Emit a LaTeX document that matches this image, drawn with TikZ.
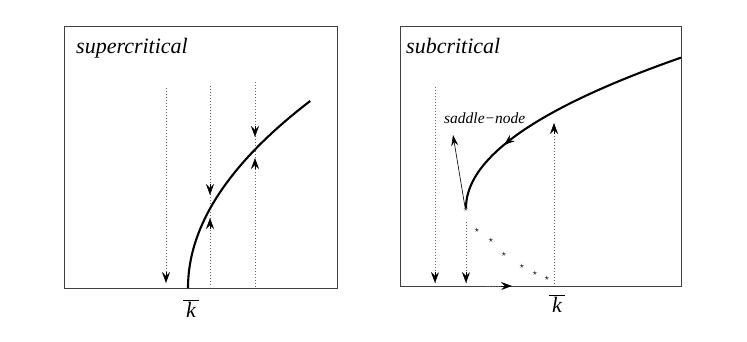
\documentclass[tikz,border=0pt]{standalone}
\usepackage{fontspec}
\setmainfont{Liberation Serif}
\usetikzlibrary{arrows.meta}
\begin{document}
\begin{tikzpicture}[x=1pt,y=-1pt,
  box/.style={draw=black!75, line width=0.9pt},
  curve/.style={line width=2.1pt, black},
  dots/.style={draw=black!60, line width=0.8pt, dash pattern=on 0.7pt off 2.3pt},
  tip/.style={-{Stealth[length=11pt,width=8pt,inset=4pt]}, line width=0.6pt, black},
  thintip/.style={-{Stealth[length=11pt,width=7pt,inset=4pt]}, line width=0.6pt, black},
  title/.style={inner sep=0pt, anchor=base west, font=\fontsize{22}{26}\selectfont\itshape},
  klabel/.style={inner sep=0pt, anchor=base, font=\fontsize{22}{24}\selectfont},
  starmark/.style={inner sep=0pt, font=\fontsize{9}{9}\selectfont},
]
\useasboundingbox (0,0) rectangle (747,341);

% ---------- left panel: supercritical ----------
\draw[box] (64,26) rectangle (337,288);
\node[title] (tl) at (76,53) {supercritical};

\coordinate (a1) at (166,88);  \coordinate (b1) at (166,283);
\coordinate (a2) at (210,86);  \coordinate (b2) at (210,287);
\coordinate (a3) at (255,82);  \coordinate (b3) at (255,287);
\draw[dots] (a1) -- (b1);
\draw[dots] (a2) -- (b2);
\draw[dots] (a3) -- (b3);

\draw[tip] (166,272) -- (166,283);
\draw[tip] (210,184) -- (210,195);
\draw[tip] (210,229) -- (210,218);
\draw[tip] (255,126) -- (255,137);
\draw[tip] (255,169) -- (255,158);

\draw[curve] plot[domain=0:187, samples=80, variable=\t] ({188+0.0035*\t*\t}, {288-\t});

\node[klabel] (kl) at (191,317) {$\overline{\hbox{\itshape\kern3pt k\kern3pt}}$};

% ---------- right panel: subcritical ----------
\draw[box] (400,26) rectangle (681,286);
\node[title] (tr) at (406,53) {subcritical};

\coordinate (c1) at (435,87);  \coordinate (d1) at (435,283);
\coordinate (c2) at (466,222); \coordinate (d2) at (466,283);
\coordinate (c3) at (554,284); \coordinate (d3) at (554,123);
\coordinate (h1) at (486,286); \coordinate (h2) at (512,286);
\draw[dots] (c1) -- (d1);
\draw[dots] (c2) -- (d2);
\draw[dots] (c3) -- (d3);
\draw[dots] (h1) -- (h2);

\draw[tip] (435,272) -- (435,283);
\draw[tip] (466,272) -- (466,283);
\draw[tip] (554,134) -- (554,123);
\draw[tip] (501,286) -- (512,286);

\draw[curve] plot[domain=0:150.4, samples=80, variable=\t] ({466+0.0095*\t*\t}, {208-\t});
\draw[tip] (512.4,138.0) -- (504,145);

\node[starmark] (s0) at (466,209) {$\star$};
\node[starmark] (s1) at (477,230) {$\star$};
\node[starmark] (s2) at (491,240) {$\star$};
\node[starmark] (s3) at (504,254) {$\star$};
\node[starmark] (s4) at (522,266) {$\star$};
\node[starmark] (s5) at (535,273) {$\star$};
\node[starmark] (s6) at (547,278) {$\star$};

\node[inner sep=0pt, anchor=base west, font=\fontsize{15.5}{18}\selectfont\itshape] (sn) at (444,123) {saddle−node};
\coordinate (sa) at (465,207);
\coordinate (sb) at (453,135);
\draw[thintip] (sa) -- (sb);

\node[klabel] (kr) at (557,312) {$\overline{\hbox{\itshape\kern3pt k\kern3pt}}$};
\end{tikzpicture}
\end{document}
